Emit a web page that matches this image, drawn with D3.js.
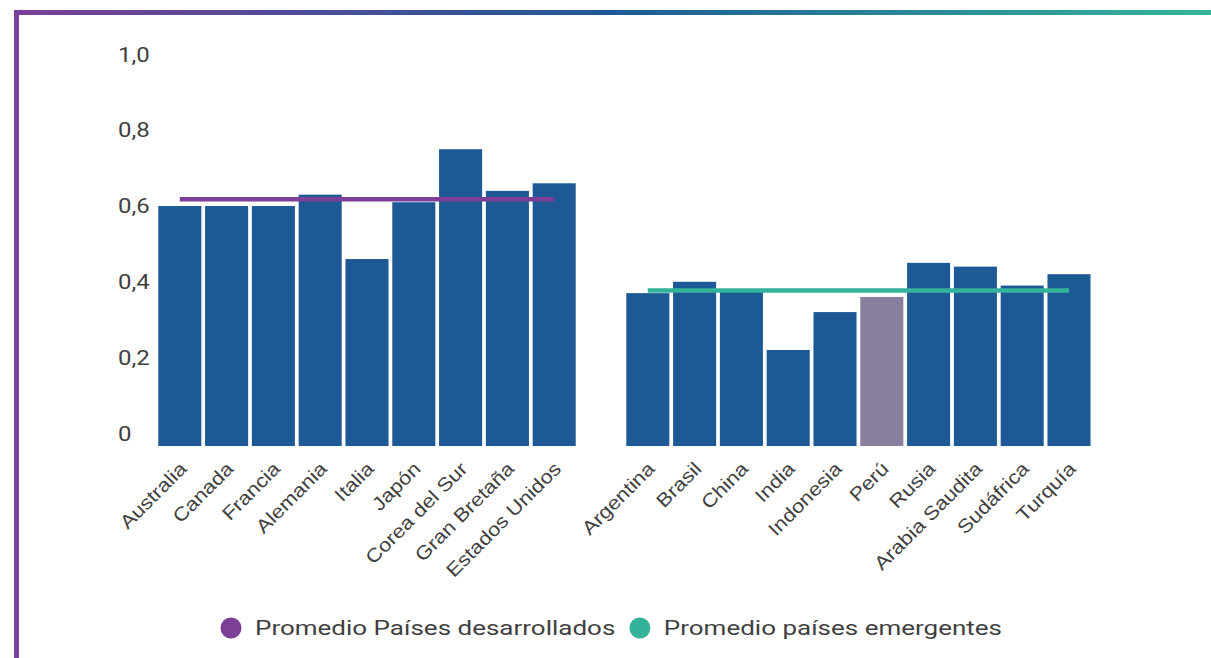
<!DOCTYPE html>
<html>

<head>
  <meta charset="utf-8">
  <title>Promedio países desarrollados y emergentes</title>
  <script src="https://cdn.jsdelivr.net/npm/d3@7"></script>
  <style>
    body {
      margin: 0;
      overflow: hidden;
      background: #fff;
    }
  </style>
</head>

<body>
  <svg id="container" width="1211" height="658"></svg>

  <script>
const developed = ['Australia', 'Canada', 'Francia', 'Alemania', 'Italia', 'Japón', 'Corea del Sur', 'Gran Bretaña', 'Estados Unidos'];
const developedValues = [0.60, 0.60, 0.60, 0.63, 0.46, 0.61, 0.75, 0.64, 0.66];

const emerging = ['Argentina', 'Brasil', 'China', 'India', 'Indonesia', 'Perú', 'Rusia', 'Arabia Saudita', 'Sudáfrica', 'Turquía'];
const emergingValues = [0.37, 0.40, 0.38, 0.22, 0.32, 0.36, 0.45, 0.44, 0.39, 0.42];

const averages = [0.618, 0.377];
const yTicks = [0, 0.2, 0.4, 0.6, 0.8, 1.0];
const legendLabels = ['Promedio Países desarrollados', 'Promedio países emergentes'];
const highlighted = 'Perú';

const BAR_COLOR = '#1d5a95';
const PERU_COLOR = '#8a7e9e';
const LINE_COLORS = ['#7b3f98', '#35b39a'];
const TEXT_COLOR = '#3f3f3f';

const svg = d3.select('#container');
const width = +svg.attr('width');
const height = +svg.attr('height');

// frame: gradient top rule + purple left rule
const grad = svg.append('defs').append('linearGradient')
  .attr('id', 'topRule')
  .attr('x1', '0%').attr('x2', '100%');
grad.append('stop').attr('offset', '0%').attr('stop-color', '#7b3f98');
grad.append('stop').attr('offset', '50%').attr('stop-color', '#1e5a96');
grad.append('stop').attr('offset', '100%').attr('stop-color', '#36b59a');

svg.append('rect')
  .attr('x', 14).attr('y', 10)
  .attr('width', width - 14).attr('height', 5)
  .attr('fill', 'url(#topRule)');
svg.append('rect')
  .attr('x', 14).attr('y', 10)
  .attr('width', 5).attr('height', height - 10)
  .attr('fill', '#7a429a');

// one empty slot between the two groups
const SPACER = '__gap__';
const slots = developed.concat([SPACER], emerging);
const rows = developed.map((c, i) => ({ country: c, value: developedValues[i] }))
  .concat(emerging.map((c, i) => ({ country: c, value: emergingValues[i] })));

const x = d3.scaleBand()
  .domain(slots)
  .range([156.4, 1092.4])
  .paddingInner(0.08)
  .paddingOuter(0.04);

const y = d3.scaleLinear()
  .domain([-0.0335, 1])
  .range([446, 54.5]);

// text in the original is a bit stretched along its baseline
const Y_STRETCH = 1.2;
const X_STRETCH = 1.15;
const LEGEND_STRETCH = 1.3;

// y tick labels
svg.append('g')
  .selectAll('text')
  .data(yTicks)
  .enter()
  .append('text')
  .attr('transform', d => 'translate(118,' + y(d) + ') scale(' + Y_STRETCH + ',1)')
  .attr('dy', '0.36em')
  .style('font-family', 'Roboto, sans-serif')
  .style('font-size', '20px')
  .attr('fill', TEXT_COLOR)
  .text(d => d === 0 ? '0' : d3.format('.1f')(d).replace('.', ','));

// bars
svg.append('g')
  .selectAll('rect')
  .data(rows)
  .enter()
  .append('rect')
  .attr('x', d => x(d.country))
  .attr('width', x.bandwidth())
  .attr('y', d => y(d.value))
  .attr('height', d => y.range()[0] - y(d.value))
  .attr('fill', d => d.country === highlighted ? PERU_COLOR : BAR_COLOR);

// average lines
const groups = [developed, emerging];
svg.append('g')
  .selectAll('line')
  .data(averages)
  .enter()
  .append('line')
  .attr('x1', (d, i) => x(groups[i][0]) + x.bandwidth() / 2)
  .attr('x2', (d, i) => x(groups[i][groups[i].length - 1]) + x.bandwidth() / 2)
  .attr('y1', d => y(d))
  .attr('y2', d => y(d))
  .attr('stroke', (d, i) => LINE_COLORS[i])
  .attr('stroke-width', 4.5);

// rotated country labels
svg.append('g')
  .selectAll('text')
  .data(rows)
  .enter()
  .append('text')
  .attr('transform', d => 'translate(' + (x(d.country) + x.bandwidth() / 2 + 8) + ',470) rotate(-45) scale(' + X_STRETCH + ',1)')
  .attr('text-anchor', 'end')
  .style('font-family', '"Liberation Sans", Arial, sans-serif')
  .style('font-size', '19px')
  .attr('fill', TEXT_COLOR)
  .text(d => d.country);

// legend
const legend = svg.append('g');
let lx = 220.5;
legendLabels.forEach((label, i) => {
  legend.append('circle')
    .attr('cx', lx + 10.5)
    .attr('cy', 628)
    .attr('r', 10.5)
    .attr('fill', LINE_COLORS[i]);
  const t = legend.append('text')
    .attr('transform', 'translate(' + (lx + 34.5) + ',634.5) scale(' + LEGEND_STRETCH + ',1)')
    .style('font-family', 'Roboto, sans-serif')
    .style('font-size', '20px')
    .attr('fill', TEXT_COLOR)
    .text(label);
  lx = lx + 34.5 + t.node().getComputedTextLength() * LEGEND_STRETCH + 14;
});
  </script>
</body>

</html>
